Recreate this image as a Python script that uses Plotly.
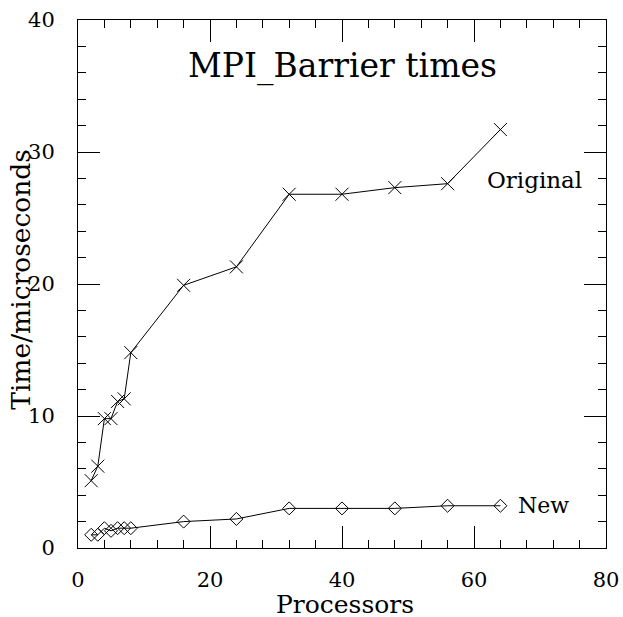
import plotly.graph_objects as go

procs = [2, 3, 4, 5, 6, 7, 8, 16, 24, 32, 40, 48, 56, 64]
original = [5.1, 6.2, 9.8, 9.8, 11.1, 11.3, 14.8, 19.9, 21.3, 26.8, 26.8, 27.3, 27.6, 31.7]
new = [1.0, 1.0, 1.5, 1.3, 1.5, 1.5, 1.5, 2.0, 2.2, 3.0, 3.0, 3.0, 3.2, 3.2]

FONT = "DejaVu Serif"

fig = go.Figure()
fig.add_trace(go.Scatter(x=procs, y=original, mode="lines+markers",
                         line=dict(color="black", width=1),
                         marker=dict(symbol="x-thin-open", size=13,
                                     line=dict(color="black", width=1)),
                         showlegend=False))
fig.add_trace(go.Scatter(x=procs, y=new, mode="lines+markers",
                         line=dict(color="black", width=1),
                         marker=dict(symbol="diamond-open", size=10, color="black",
                                     line=dict(color="black", width=1)),
                         showlegend=False))

fig.add_annotation(x=69.2, y=27.9, text="Original", showarrow=False,
                   font=dict(family=FONT, size=23, color="black"))
fig.add_annotation(x=70.5, y=3.2, text="New", showarrow=False,
                   font=dict(family=FONT, size=22, color="black"))
fig.add_annotation(x=40, y=36.5, text="MPI_Barrier times", showarrow=False,
                   font=dict(family=FONT, size=33, color="black"))

# axis titles as annotations (placed in pixels relative to the plot frame)
fig.add_annotation(xref="paper", yref="paper", x=0.506, y=0, yshift=-56,
                   text="Processors", showarrow=False, yanchor="middle",
                   font=dict(family=FONT, size=25, color="black"))
fig.add_annotation(xref="paper", yref="paper", x=0, y=0.508, xshift=-57,
                   text="Time/microseconds", showarrow=False, textangle=-90,
                   xanchor="center", yanchor="middle",
                   font=dict(family=FONT, size=26.5, color="black"))

axis_common = dict(showgrid=False, zeroline=False, showline=True,
                   linecolor="black", linewidth=1, mirror="ticks",
                   ticks="inside", ticklen=22, tickcolor="black", tickwidth=1,
                   automargin=False,
                   tickfont=dict(family=FONT, size=21, color="black"))

fig.update_xaxes(range=[0, 80], dtick=20, tick0=0,
                 minor=dict(dtick=4, ticklen=8, ticks="inside", tickcolor="black"),
                 ticklabelstandoff=13,
                 **axis_common)
fig.update_yaxes(range=[0, 40], dtick=10, tick0=0,
                 minor=dict(dtick=2, ticklen=8, ticks="inside", tickcolor="black"),
                 ticklabelstandoff=18,
                 **axis_common)

fig.update_layout(width=623, height=617,
                  margin=dict(l=78, r=17, t=20, b=69),
                  paper_bgcolor="white", plot_bgcolor="white")

# remove the default page margin so the 623x617 figure fills the window exactly
fig.write_html("out.html", config={"displayModeBar": False},
               post_script="document.body.style.margin='0';")
